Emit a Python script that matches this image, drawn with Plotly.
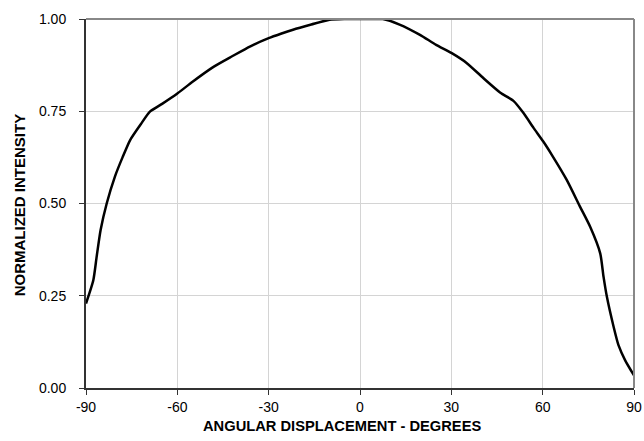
import plotly.graph_objects as go

# Angular intensity profile (degrees vs. normalized intensity)
angle_deg = [-90, -87.6, -86.5, -85.2, -83.2, -80.5, -78, -75.5, -72, -69,
             -65, -60, -55, -48, -42, -36, -30, -26, -22, -16, -10, -5,
             0, 5, 7.5, 13, 19.7, 25, 30, 35, 40.5, 46, 50.4, 53.7, 57,
             60.2, 63, 67.9, 72.3, 75.6, 78.9, 80, 81.1, 83.3, 84.9, 87.1, 90]
intensity = [0.229, 0.292, 0.356, 0.428, 0.500, 0.573, 0.625, 0.672, 0.715, 0.749,
             0.770, 0.798, 0.830, 0.871, 0.899, 0.926, 0.948, 0.960, 0.971, 0.985, 0.998, 1.0,
             1.0, 1.0, 1.0, 0.985, 0.957, 0.930, 0.908, 0.881, 0.840, 0.801, 0.778, 0.745, 0.705,
             0.668, 0.632, 0.564, 0.491, 0.437, 0.365, 0.301, 0.247, 0.166, 0.116, 0.075, 0.034]

x_ticks = [-90, -60, -30, 0, 30, 60, 90]
y_ticks = [0.0, 0.25, 0.5, 0.75, 1.0]

font_family = "Liberation Sans, Arial, sans-serif"

fig = go.Figure()
fig.add_trace(go.Scatter(
    x=angle_deg, y=intensity, mode="lines",
    line=dict(color="black", width=2.5, shape="spline", smoothing=0.6),
    showlegend=False, hoverinfo="skip",
))

fig.update_layout(
    width=644, height=441,
    margin=dict(l=86, r=10, t=19, b=53),
    paper_bgcolor="white", plot_bgcolor="white",
    font=dict(family=font_family, color="black", size=14),
    xaxis=dict(
        range=[-90, 90], tickvals=x_ticks, ticktext=[str(v) for v in x_ticks],
        showgrid=True, gridcolor="#d4d4d4", gridwidth=1, zeroline=False,
        showline=True, linecolor="#333333", linewidth=2,
        ticks="outside", ticklen=5, tickcolor="#333333", tickwidth=1,
        tickfont=dict(size=14), automargin=False,
    ),
    yaxis=dict(
        range=[0, 1], tickvals=y_ticks, ticktext=[f"{v:.2f}" for v in y_ticks],
        showgrid=True, gridcolor="#d4d4d4", gridwidth=1, zeroline=False,
        showline=True, linecolor="#333333", linewidth=2,
        ticks="outside", ticklen=5, tickcolor="#333333", tickwidth=1,
        tickfont=dict(size=14), ticklabelstandoff=10, automargin=False,
    ),
    annotations=[
        dict(text="<b>ANGULAR DISPLACEMENT - DEGREES</b>", xref="paper", yref="paper",
             x=0.468, y=0, yshift=-38, xanchor="center", yanchor="middle",
             showarrow=False, font=dict(size=14.7)),
        dict(text="<b>NORMALIZED INTENSITY</b>", xref="paper", yref="paper",
             x=0, xshift=-67, y=0.495, textangle=-90, xanchor="center", yanchor="middle",
             showarrow=False, font=dict(size=15)),
    ],
    shapes=[
        dict(type="line", xref="paper", yref="paper", x0=0, x1=1, y0=1, y1=1,
             line=dict(color="#888888", width=2)),
        dict(type="line", xref="paper", yref="paper", x0=1, x1=1, y0=0, y1=1,
             line=dict(color="#888888", width=2)),
    ],
)

fig.write_html("out.html")
